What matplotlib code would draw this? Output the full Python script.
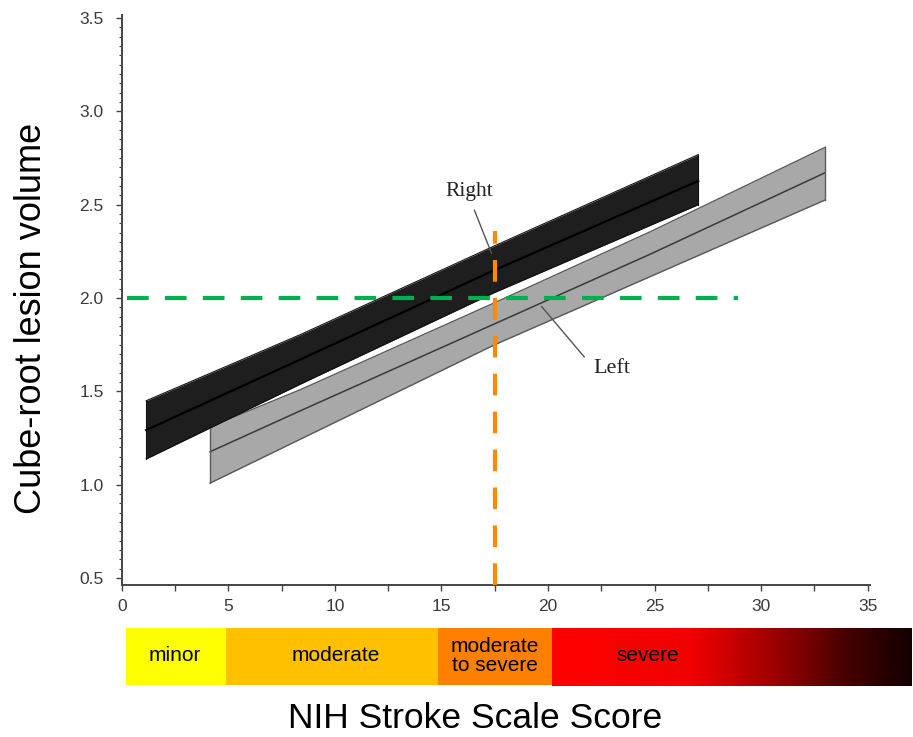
import numpy as np
import matplotlib
matplotlib.use("Agg")
import matplotlib.pyplot as plt
from matplotlib.ticker import MultipleLocator
from matplotlib.colors import LinearSegmentedColormap

# ---------------- data ----------------
right_x = [1.15, 8.4, 17.5, 27.05]
right_center = [1.293, 1.672, 2.15, 2.627]
right_upper = [1.45, 1.805, 2.28, 2.768]
right_lower = [1.138, 1.54, 2.03, 2.50]

left_x = [4.15, 8.4, 17.5, 24.8, 33.0]
left_center = [1.177, 1.397, 1.862, 2.235, 2.671]
left_upper = [1.311, 1.51, 1.975, 2.355, 2.807]
left_lower = [1.009, 1.245, 1.75, 2.115, 2.525]

threshold_volume = 2.0
threshold_volume_xrange = [0.25, 28.9]
threshold_score = 17.5
threshold_score_top = 2.36

right_label = ("Right", 16.3, 2.568)
right_leader_x = [16.55, 17.35]
right_leader_y = [2.47, 2.24]
left_label = ("Left", 23.0, 1.625)
left_leader_x = [19.7, 21.7]
left_leader_y = [1.955, 1.685]

x_ticks = [0, 5, 10, 15, 20, 25, 30, 35]
y_ticks = [0.5, 1.0, 1.5, 2.0, 2.5, 3.0, 3.5]

severity_labels = ["minor", "moderate", "moderate\nto severe", "severe"]
severity_edges = [0.2, 4.9, 14.85, 20.2, 37.09]
severity_label_x = [2.5, 10.05, 17.5, 24.7]
severity_colors = ["#FFFF00", "#FFC000", "#FF7F00", None]

# ---------------- figure ----------------
W, H = 913, 737
fig = plt.figure(figsize=(W / 100, H / 100), dpi=100)
fig.patch.set_facecolor("white")

x0_px, x1_px = 121.7, 870.0
yb_px, yt_px = 585.0, 15.0
ax = fig.add_axes([x0_px / W, 1 - yb_px / H, (x1_px - x0_px) / W, (yb_px - yt_px) / H])
ax.set_xlim(0, 35.11)
ax.set_ylim(0.463, 3.516)

# bands
ax.fill_between(right_x, right_lower, right_upper, color="#1e1e1e", lw=0, zorder=3)
ax.plot(right_x, right_center, color="#000000", lw=1.6, zorder=4)
ax.plot(right_x, right_upper, color="#111111", lw=0.8, zorder=4)
ax.plot(right_x, right_lower, color="#111111", lw=0.8, zorder=4)
ax.plot([right_x[0], right_x[0]], [right_lower[0], right_upper[0]], color="#111111", lw=0.8, zorder=4)
ax.plot([right_x[-1], right_x[-1]], [right_lower[-1], right_upper[-1]], color="#111111", lw=0.8, zorder=4)

ax.fill_between(left_x, left_lower, left_upper, color="#a8a8a8", lw=0, zorder=2)
ax.plot(left_x, left_center, color="#3a3a3a", lw=1.1, zorder=2.5)
ax.plot(left_x, left_upper, color="#5a5a5a", lw=1.0, zorder=2.5)
ax.plot(left_x, left_lower, color="#5a5a5a", lw=1.0, zorder=2.5)
ax.plot([left_x[0], left_x[0]], [left_lower[0], left_upper[0]], color="#5a5a5a", lw=1.0, zorder=2.5)
ax.plot([left_x[-1], left_x[-1]], [left_lower[-1], left_upper[-1]], color="#5a5a5a", lw=1.0, zorder=2.5)

# leaders and labels
ax.plot(right_leader_x, right_leader_y, color="#555555", lw=1.0, zorder=5)
ax.plot(left_leader_x, left_leader_y, color="#555555", lw=1.0, zorder=5)
ax.text(right_label[1], right_label[2], right_label[0], family="Liberation Serif",
        fontsize=15.5, color="#222222", ha="center", va="center", zorder=5)
ax.text(left_label[1], left_label[2], left_label[0], family="Liberation Serif",
        fontsize=16, color="#222222", ha="center", va="center", zorder=5)

# threshold dashed lines
lw_d = 3.0
ax.plot(threshold_volume_xrange, [threshold_volume, threshold_volume], color="#00B050",
        lw=lw_d, dashes=(5.2, 3.9), dash_capstyle="butt", zorder=6)
ax.plot([threshold_score, threshold_score], [0.463, threshold_score_top], color="#FF8A00",
        lw=lw_d, dashes=(5.2, 3.9), dash_capstyle="butt", zorder=7)

# axes styling
for s in ["top", "right"]:
    ax.spines[s].set_visible(False)
for s in ["left", "bottom"]:
    ax.spines[s].set_color("#444444")
    ax.spines[s].set_linewidth(1.4)
ax.set_xticks(x_ticks)
ax.set_xticklabels([str(t) for t in x_ticks])
ax.set_yticks(y_ticks)
ax.set_yticklabels([f"{t:.1f}" for t in y_ticks])
ax.xaxis.set_minor_locator(MultipleLocator(2.5))
ax.yaxis.set_minor_locator(MultipleLocator(0.05))
ax.tick_params(axis="x", which="both", direction="out", length=4, width=1.0, color="#444444",
               labelsize=12.5, labelcolor="#3a3a3a", pad=6)
ax.tick_params(axis="y", which="major", direction="out", length=4, width=1.0, color="#444444",
               labelsize=12.5, labelcolor="#3a3a3a", pad=9)
ax.tick_params(axis="y", which="minor", direction="out", length=2.5, width=0.8, color="#444444")
for lab in ax.get_xticklabels() + ax.get_yticklabels():
    lab.set_family("Liberation Sans")

# axis titles
fig.text(32 / W, 1 - 318 / H, "Cube-root lesion volume", rotation=90, ha="center", va="center",
         family="Liberation Sans", fontsize=26, color="#000000")
fig.text(475 / W, 1 - 718 / H, "NIH Stroke Scale Score", ha="center", va="center",
         family="Liberation Sans", fontsize=25.5, color="#000000")

# severity bar
bx1_px = 912.0
bt_px, bb_px = 628.0, 686.0
bax = fig.add_axes([x0_px / W, 1 - bb_px / H, (bx1_px - x0_px) / W, (bb_px - bt_px) / H])
bxlim = (0, (bx1_px - x0_px) / ((x1_px - x0_px) / 35.11))
bax.axis("off")
for i, c in enumerate(severity_colors):
    if c is not None:
        bax.axvspan(severity_edges[i], severity_edges[i + 1], ymin=0.02, ymax=1.0, color=c, lw=0)
cmap = LinearSegmentedColormap.from_list(
    "sev", [(0, "#FF0000"), (0.38, "#F40000"), (0.61, "#A00000"), (0.83, "#420000"), (1.0, "#140000")])
grad = np.linspace(0, 1, 512).reshape(1, -1)
bax.imshow(grad, cmap=cmap, aspect="auto", extent=[severity_edges[3], severity_edges[4], 0, 1],
           interpolation="bicubic")
bax.set_xlim(*bxlim)
bax.set_ylim(0, 1)
for lab, lx in zip(severity_labels, severity_label_x):
    bax.text(lx, 0.52, lab, ha="center", va="center", family="Liberation Sans", fontsize=15,
             color="#000000", linespacing=1.0)

fig.savefig("out.png", dpi=100)
